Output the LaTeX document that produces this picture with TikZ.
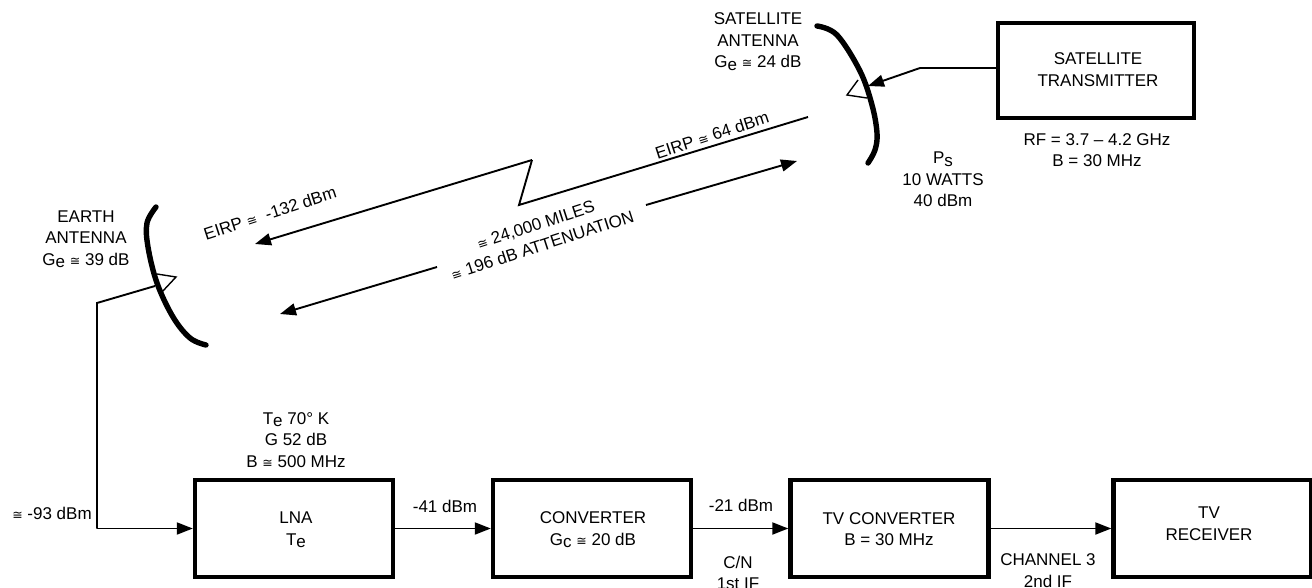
\documentclass[tikz,border=0pt]{standalone}
\usepackage{fontspec}
\setmainfont{Liberation Sans}
\newfontfamily\symfont{DejaVu Sans}
\usetikzlibrary{arrows.meta}
\newcommand{\apx}{{\symfont\fontsize{12.5pt}{12.5pt}\selectfont ≅}}
\newcommand{\lowr}[1]{\raisebox{-2.5pt}{#1}}
\tikzset{
  block/.style={draw,line width=4.4pt,minimum width=198pt,minimum height=97pt,inner sep=0pt},
  lbl/.style={align=center,inner sep=0pt,font=\fontsize{17pt}{21.5pt}\selectfont},
  wire/.style={line width=1.9pt,line join=miter},
  arrow/.style={wire,-{Triangle[length=16pt,width=12pt]}},
  dish/.style={line width=5.4pt,line cap=round},
  feed/.style={line width=1.4pt,line join=miter}
}
\begin{document}
\begin{tikzpicture}[x=1pt,y=-1pt]
\useasboundingbox (0,0) rectangle (1312,588);
\clip (0,0) rectangle (1312,588);
% blocks
\node[block,minimum width=196pt,minimum height=95pt] (sattx) at (1096,70.5) {};
\node[block] (lna) at (294,528.5) {};
\node[block] (conv) at (592,528.5) {};
\node[block] (tvc) at (889.5,528.5) {};
\node[block] (tvr) at (1212.5,528.5) {};
% named points
\coordinate (sbend) at (920,68);
\coordinate (stip) at (868,86);
\coordinate (t1) at (858,80);
\coordinate (t2) at (847,95);
\coordinate (t3) at (867,98);
\coordinate (lstart) at (808,117);
\coordinate (z1) at (519,205);
\coordinate (z2) at (532,160);
\coordinate (ltip) at (255,244);
\coordinate (a1s) at (646,205);
\coordinate (a1e) at (797,161);
\coordinate (a2s) at (437,267);
\coordinate (a2e) at (280,314);
\coordinate (e1) at (157,274);
\coordinate (e2) at (176,277);
\coordinate (e3) at (162,292);
\coordinate (efeed) at (155,286);
\coordinate (ebend) at (97,303);
\coordinate (ecorner) at (97,528.5);
% dishes
\draw[dish] plot[smooth,tension=0.6] coordinates {(817,26) (837,35) (860,71) (872,105) (877,133) (875,150) (868,163)};
\draw[dish] plot[smooth,tension=0.6] coordinates {(156,207) (147,223) (148,247) (157,283) (173,317) (190,338) (206,345)};
% feeds
\draw[feed] (t1) -- (t2) -- (t3);
\draw[feed] (e1) -- (e2) -- (e3);
% connectors
\draw[arrow] (sattx.west |- sbend) -- (sbend) -- (stip);
\draw[wire] (lstart) -- (z1) -- (z2);
\draw[arrow] (z2) -- (ltip);
\draw[arrow] (a1s) -- (a1e);
\draw[arrow] (a2s) -- (a2e);
\draw[wire] (efeed) -- (ebend) -- (ecorner);
\draw[arrow] (ecorner) -- (lna.west);
\draw[arrow] (lna.east) -- (conv.west);
\draw[arrow] (conv.east) -- (tvc.west);
\draw[arrow] (tvc.east) -- (tvr.west);
% labels
\node[lbl] (tsa) at (758,41.5) {SATELLITE\\ANTENNA\\G\lowr{e} \apx\ 24 dB};
\node[lbl] (ttx) at (1098,69.5) {SATELLITE\\TRANSMITTER};
\node[lbl] (trf) at (1097,150) {RF = 3.7 – 4.2 GHz\\B = 30 MHz};
\node[lbl] (tps) at (943,179.5) {P\lowr{s}\\10 WATTS\\40 dBm};
\node[lbl,rotate=18] (te1) at (712,135) {EIRP \apx\ 64 dBm};
\node[lbl,rotate=18] (tmi) at (539,235) {\apx\ 24,000 MILES\\\apx\ 196 dB ATTENUATION};
\node[lbl,rotate=18] (te2) at (270,213) {EIRP \apx\ \ -132 dBm};
\node[lbl] (tea) at (86,239) {EARTH\\ANTENNA\\G\lowr{e} \apx\ 39 dB};
\node[lbl] (tln) at (296,440) {T\lowr{e} 70° K\\G 52 dB\\B \apx\ 500 MHz};
\node[lbl] (t93) at (52,513) {\apx\ -93 dBm};
\node[lbl] (t41) at (445,506) {-41 dBm};
\node[lbl] (tlb) at (296,530) {LNA\\T\lowr{e}};
\node[lbl] (tcv) at (593,530) {CONVERTER\\G\lowr{c} \apx\ 20 dB};
\node[lbl] (t21) at (741,505) {-21 dBm};
\node[lbl] (tcn) at (738,573) {C/N\\1st IF};
\node[lbl] (ttv) at (889,529) {TV CONVERTER\\B = 30 MHz};
\node[lbl] (trx) at (1209,523.5) {TV\\RECEIVER};
\node[lbl] (tch) at (1048,570.5) {CHANNEL 3\\2nd IF};
\end{tikzpicture}
\end{document}
